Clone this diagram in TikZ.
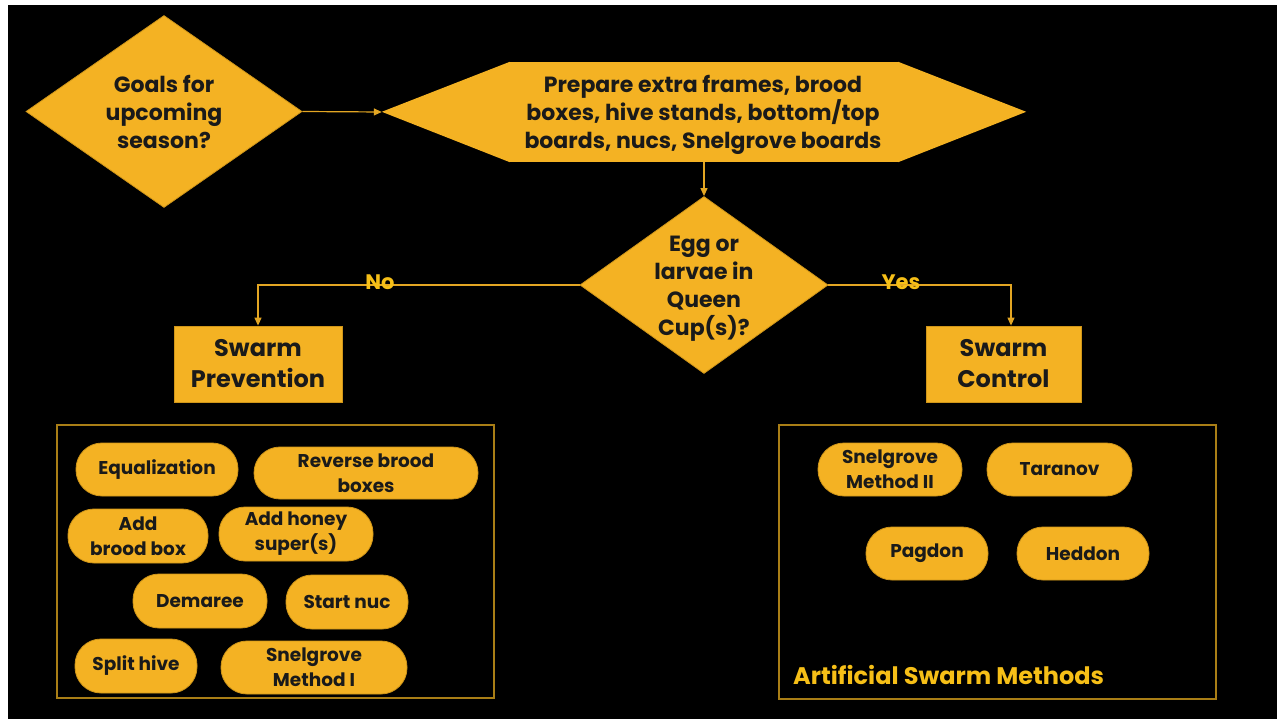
\documentclass[tikz,border=0pt]{standalone}
\usepackage{fontspec}
\setmainfont{Poppins}
\usetikzlibrary{shapes.geometric,arrows.meta}
\definecolor{gold}{HTML}{F4B223}
\definecolor{goldedge}{HTML}{D09619}
\definecolor{linegold}{HTML}{E3A623}
\definecolor{contedge}{HTML}{A97E16}
\definecolor{lblyellow}{HTML}{F6BF17}
\definecolor{ink}{HTML}{1A1A1A}
\tikzset{
  dia/.style={shape=diamond, fill=gold, draw=goldedge, line width=0.8pt, inner sep=0pt},
  dtext/.style={align=center, text=ink, inner sep=0pt, font=\bfseries\fontsize{22}{28}\selectfont},
  bigbox/.style={rectangle, fill=gold, draw=goldedge, line width=0.8pt, align=center, text=ink, inner sep=0pt, font=\bfseries\fontsize{24}{31}\selectfont},
  prepbox/.style={rectangle, fill=gold, draw=none, align=center, text=ink, inner sep=0pt, font=\bfseries\fontsize{22}{28}\selectfont},
  prept/.style={align=center, text=ink, inner sep=0pt, font=\bfseries\fontsize{22}{28}\selectfont},
  pill/.style={rectangle, rounded corners=26pt, fill=gold, draw=goldedge, line width=0.8pt, align=center, inner sep=0pt, text=ink, font=\bfseries\fontsize{18.5}{25}\selectfont},
  cont/.style={rectangle, draw=contedge, line width=2.5pt, inner sep=0pt},
  conn/.style={draw=linegold, line width=1.2pt},
  arr/.style={conn, -{Triangle[length=8pt,width=7pt]}},
  lbl/.style={text=lblyellow, inner sep=0pt, font=\bfseries\fontsize{21}{21}\selectfont}
}
\begin{document}
\begin{tikzpicture}[x=1pt,y=-1pt]
\useasboundingbox (0,0) rectangle (1278,719);
\fill[white] (0,0) rectangle (1278,719);
\fill[black] (8,5) rectangle (1277,719);

% top row
\node[dia, minimum width=276pt, minimum height=192pt] (goals) at (164,111.5) {};
\node[dtext] (goalst) at (164,112) {Goals for\\upcoming\\season?};

\node[prepbox, minimum width=388pt, minimum height=100pt] (prep) at (704,112) {};
\fill[gold] (prep.north west) -- ++(-128,50) -- (prep.south west) -- cycle;
\fill[gold] (prep.north east) -- ++(128,50) -- (prep.south east) -- cycle;
\coordinate (prepW) at ([xshift=-128pt]prep.west);
\node[prept] (prept) at (703,115) {Prepare extra frames, brood\\boxes, hive stands, bottom/top\\boards, nucs, Snelgrove boards};

\draw[arr] (goals.east) -- (prepW);

% decision
\node[dia, minimum width=248pt, minimum height=177pt] (egg) at (704,285) {};
\node[dtext] (eggt) at (704,289) {Egg or\\larvae in\\Queen\\Cup(s)?};
\draw[arr] (prep.south) -- (egg.north);

\node[bigbox, minimum width=168pt, minimum height=76pt] (prev) at (258,364) {Swarm\\Prevention};
\node[bigbox, minimum width=155pt, minimum height=76pt] (ctrl) at (1003.5,364) {Swarm\\Control};

\draw[arr] (egg.west) -| (prev.north);
\draw[arr] (egg.east) -| ([xshift=7.5pt]ctrl.north);
\node[lbl] (no) at (380,282) {No};
\node[lbl] (yes) at (901,282) {Yes};

% containers
\node[cont, minimum width=437pt, minimum height=273pt] (leftc) at (275.5,561.5) {};
\node[cont, minimum width=437pt, minimum height=274pt] (rightc) at (997.5,562) {};

% left pills
\node[pill, minimum width=162pt, minimum height=53pt] (equal) at (157,469.5) {Equalization};
\node[pill, minimum width=224pt, minimum height=52pt] (rev) at (366,473) {Reverse brood\\boxes};
\node[pill, minimum width=140pt, minimum height=54pt] (addb) at (138,536) {Add\\brood box};
\node[pill, minimum width=154pt, minimum height=54pt] (addh) at (296,534) {Add honey\\super(s)};
\node[pill, minimum width=134pt, minimum height=54pt] (dem) at (200,601) {Demaree};
\node[pill, minimum width=122pt, minimum height=54pt] (nuc) at (347,602) {Start nuc};
\node[pill, minimum width=122pt, minimum height=54pt] (split) at (136,666) {Split hive};
\node[pill, minimum width=186pt, minimum height=53pt] (snel1) at (314,667.5) {Snelgrove\\Method I};

% right pills
\node[pill, minimum width=144pt, minimum height=53pt] (snel2) at (890,469.5) {Snelgrove\\Method II};
\node[pill, minimum width=145pt, minimum height=53pt] (tar) at (1059.5,469.5) {Taranov};
\node[pill, minimum width=122pt, minimum height=53pt] (pag) at (927,553.5) {Pagdon};
\node[pill, minimum width=132pt, minimum height=53pt] (hed) at (1083,553.5) {Heddon};

\node[lbl, anchor=west, font=\bfseries\fontsize{24}{24}\selectfont] (asm) at (793,675) {Artificial Swarm Methods};
\end{tikzpicture}
\end{document}
